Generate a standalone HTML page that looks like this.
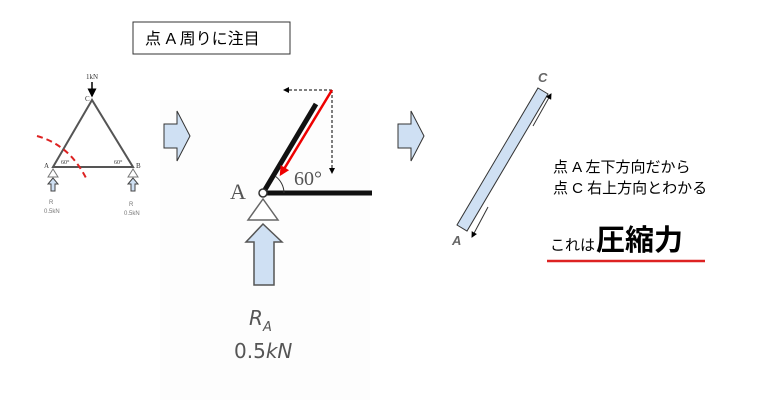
<!DOCTYPE html>
<html><head><meta charset="utf-8"><style>
html,body{margin:0;padding:0;background:#fff;}
svg{display:block;}
.jp{font-family:"Liberation Sans","Noto Sans CJK JP",sans-serif;}
</style></head><body>
<svg width="768" height="406" viewBox="0 0 768 406" xmlns="http://www.w3.org/2000/svg">
<defs>
<marker id="ak" markerWidth="6" markerHeight="6" refX="5" refY="3" orient="auto"><path d="M0,0 L6,3 L0,6 z" fill="#000"/></marker>
<marker id="ar" markerWidth="4" markerHeight="4" refX="3" refY="2" orient="auto"><path d="M0,0 L4,2 L0,4 z" fill="#e00"/></marker>
</defs>
<rect x="160" y="100" width="210" height="300" fill="#fdfdfd"/>
<!-- top label -->
<rect x="133" y="22" width="157" height="32" fill="#fff" stroke="#333" stroke-width="1"/>
<text x="145" y="44" class="jp" font-size="16" fill="#000">点 A 周りに注目</text>
<!-- left truss -->
<polygon points="92,100 53,167 133,167" fill="none" stroke="#555" stroke-width="2"/>
<text x="86" y="79" font-family="Liberation Serif,serif" font-size="7" fill="#333">1kN</text>
<line x1="92" y1="82" x2="92" y2="96" stroke="#000" stroke-width="1.5" marker-end="url(#ak)"/>
<text x="85" y="101" font-family="Liberation Serif,serif" font-size="7" fill="#333">C</text>
<text x="44" y="168" font-family="Liberation Serif,serif" font-size="7" fill="#333">A</text>
<text x="136" y="168" font-family="Liberation Serif,serif" font-size="7" fill="#333">B</text>
<text x="61" y="164" font-family="Liberation Serif,serif" font-size="6" fill="#333">60°</text>
<text x="114" y="164" font-family="Liberation Serif,serif" font-size="6" fill="#333">60°</text>
<path d="M37,136 Q70,145 87,180" fill="none" stroke="#d22" stroke-width="2" stroke-dasharray="6,4"/>
<polygon points="53,169 48,177 58,177" fill="#fff" stroke="#777"/>
<polygon points="133,169 128,177 138,177" fill="#fff" stroke="#777"/>
<polygon points="53,178 48,184 51,184 51,191 55,191 55,184 58,184" fill="#cfe0f3" stroke="#444"/>
<polygon points="133,178 128,184 131,184 131,191 135,191 135,184 138,184" fill="#cfe0f3" stroke="#444"/>
<text x="49" y="204" font-family="Liberation Sans,sans-serif" font-size="6" fill="#777">R</text>
<text x="44" y="213" font-family="Liberation Sans,sans-serif" font-size="6" fill="#777">0.5kN</text>
<text x="129" y="206" font-family="Liberation Sans,sans-serif" font-size="6" fill="#777">R</text>
<text x="124" y="215" font-family="Liberation Sans,sans-serif" font-size="6" fill="#777">0.5kN</text>
<!-- block arrows -->
<polygon points="164,124 177,124 177,111 190,136 177,161 177,148 164,148" fill="#cfe0f3" stroke="#333"/>
<polygon points="398,124 411,124 411,111 424,136 411,161 411,148 398,148" fill="#cfe0f3" stroke="#333"/>
<!-- middle -->
<line x1="263" y1="193" x2="316" y2="104" stroke="#111" stroke-width="5"/>
<line x1="263" y1="193" x2="372" y2="193" stroke="#111" stroke-width="5"/>
<line x1="332" y1="90" x2="284" y2="90" stroke="#000" stroke-dasharray="3,2" marker-end="url(#ak)"/>
<line x1="332" y1="90" x2="332" y2="173" stroke="#000" stroke-dasharray="3,2" marker-end="url(#ak)"/>
<line x1="332" y1="90" x2="281" y2="174" stroke="#e00" stroke-width="2.5" marker-end="url(#ar)"/>
<path d="M284,193 A21,21 0 0 0 275,176" fill="none" stroke="#333"/>
<text x="294" y="185" font-family="Liberation Serif,serif" font-size="20" fill="#555">60°</text>
<text x="230" y="199" font-family="Liberation Serif,serif" font-size="22" fill="#555">A</text>
<circle cx="263" cy="193" r="4" fill="#fff" stroke="#333" stroke-width="1.5"/>
<polygon points="263,199 248,220 278,220" fill="#fff" stroke="#666" stroke-width="1.5"/>
<polygon points="263,224 246,242 254,242 254,285 274,285 274,242 282,242" fill="#cfe0f3" stroke="#555" stroke-width="1.5"/>
<text x="249" y="325" font-family="DejaVu Sans,sans-serif" font-style="italic" font-size="20" fill="#555">R</text>
<text x="263" y="331" font-family="DejaVu Sans,sans-serif" font-style="italic" font-size="13" fill="#555">A</text>
<text x="234" y="358" font-family="DejaVu Sans,sans-serif" font-size="20" fill="#555">0.5<tspan font-style="italic">kN</tspan></text>
<!-- bar -->
<polygon points="538,88 548,94 467,231 457,225" fill="#cfe0f3" stroke="#333"/>
<text x="538" y="82" font-family="Liberation Sans,sans-serif" font-style="italic" font-weight="bold" font-size="13" fill="#666">C</text>
<text x="452" y="245" font-family="Liberation Sans,sans-serif" font-style="italic" font-weight="bold" font-size="13" fill="#666">A</text>
<line x1="533" y1="126" x2="551" y2="94" stroke="#333" marker-end="url(#ak)"/>
<line x1="488" y1="207" x2="472" y2="237" stroke="#333" marker-end="url(#ak)"/>
<!-- text -->
<text x="553" y="172" class="jp" font-size="15" fill="#000">点 A 左下方向だから</text>
<text x="553" y="193" class="jp" font-size="15" fill="#000">点 C 右上方向とわかる</text>
<text x="550" y="250" class="jp" font-size="15" fill="#000">これは<tspan font-size="29" font-weight="bold" dx="1">圧縮力</tspan></text>
<line x1="547" y1="261" x2="705" y2="261" stroke="#d22" stroke-width="2.5"/>
</svg>
</body></html>
